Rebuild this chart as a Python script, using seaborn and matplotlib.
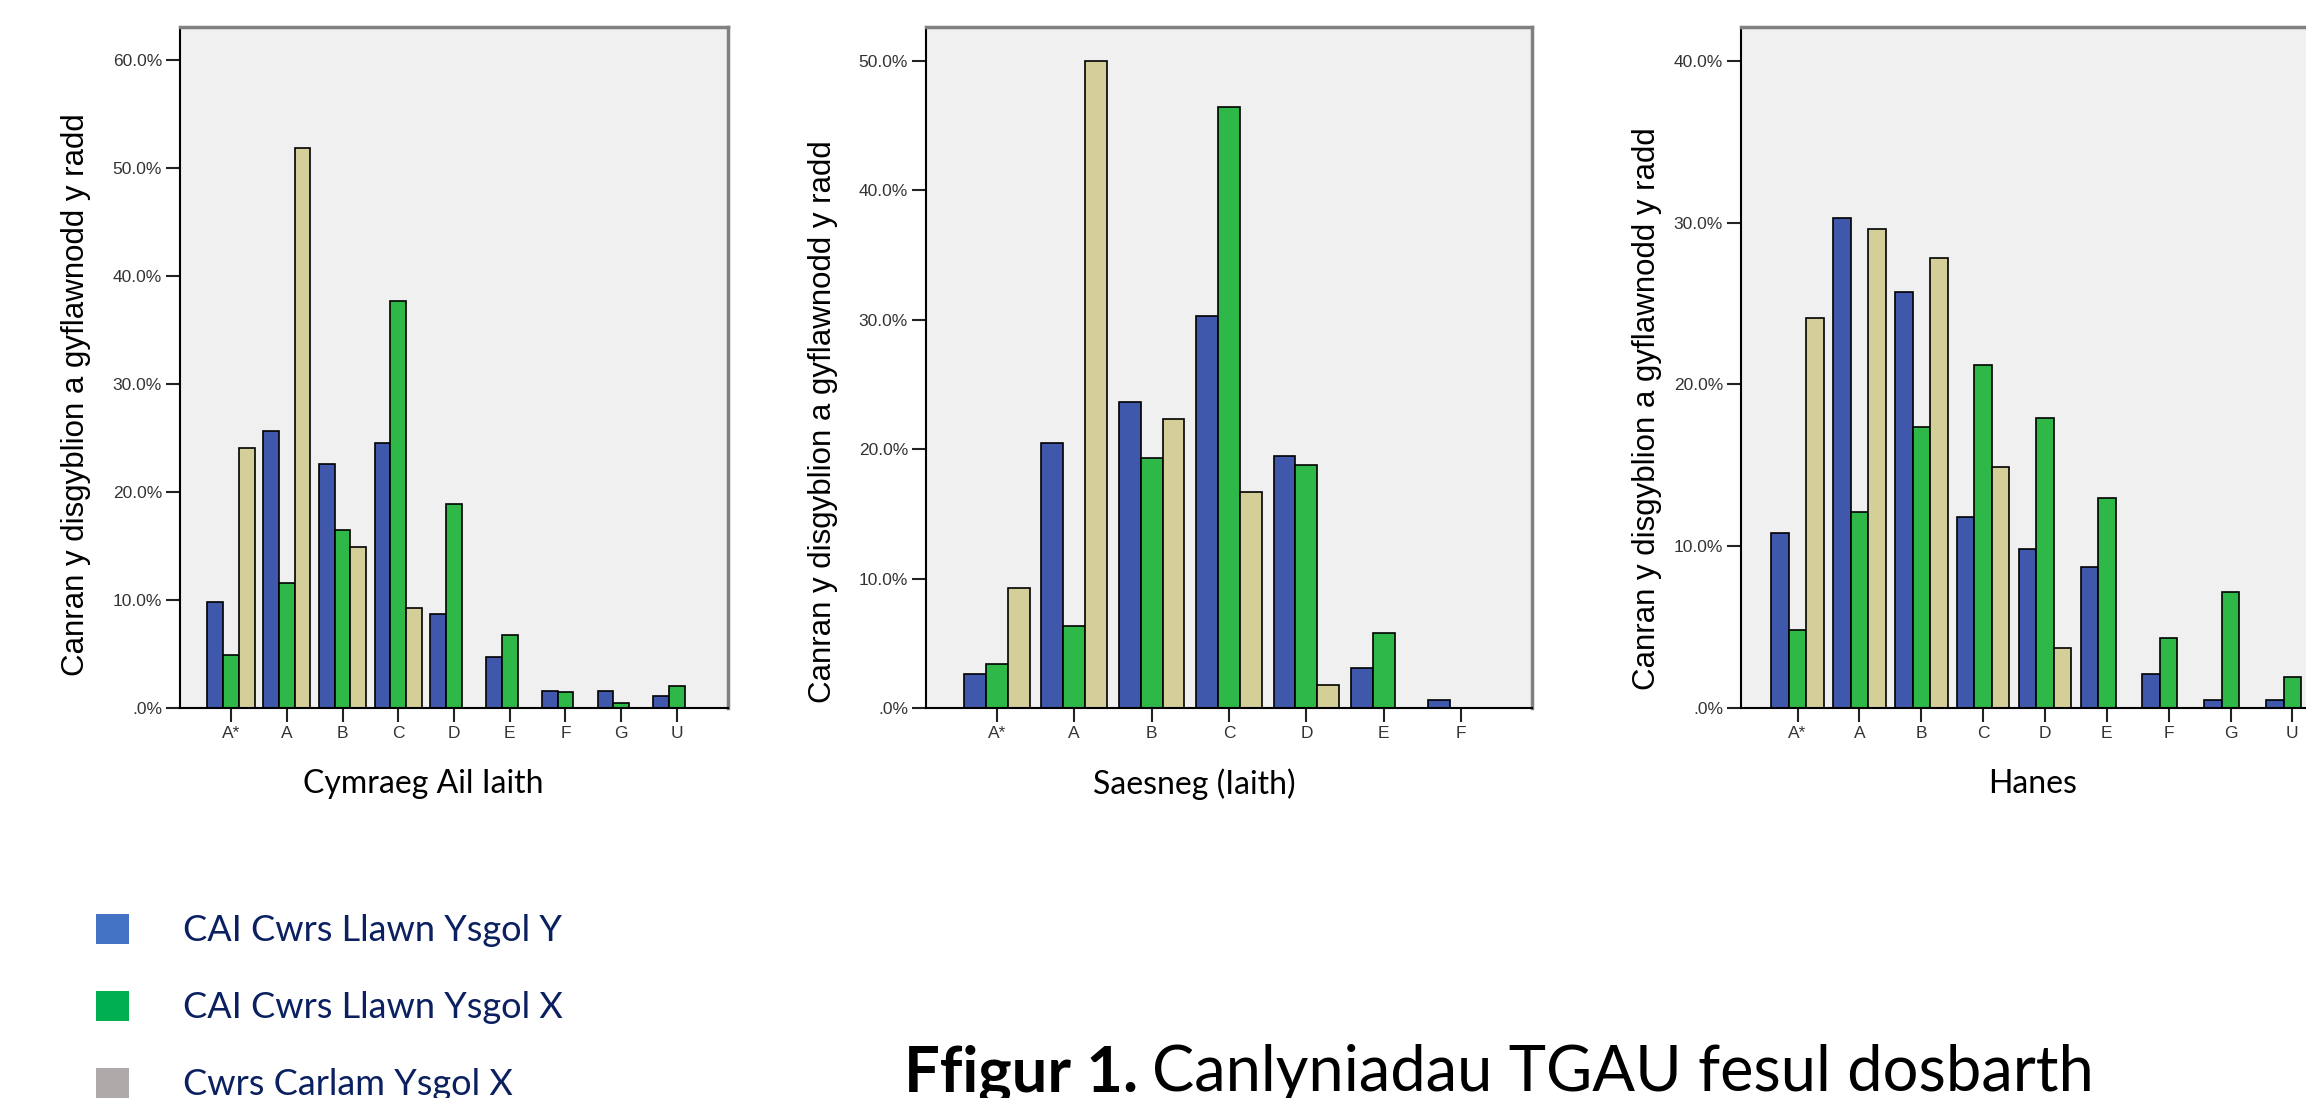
import numpy as np
import pandas as pd
import matplotlib
matplotlib.use("Agg")
import matplotlib.pyplot as plt
from matplotlib.patches import Patch
from matplotlib.ticker import FuncFormatter
import seaborn as sns

# grwpiau a lliwiau
groups = ["CAI Cwrs Llawn Ysgol Y", "CAI Cwrs Llawn Ysgol X", "Cwrs Carlam Ysgol X"]
bar_colours = ["#3f58ab", "#2eb848", "#d4cf98"]
legend_colours = ["#4472c4", "#00b050", "#aeaaaa"]

# Cymraeg Ail Iaith
grades_cym = ["A*", "A", "B", "C", "D", "E", "F", "G", "U"]
cym_y = [9.8, 25.7, 22.6, 24.6, 8.7, 4.7, 1.6, 1.6, 1.1]
cym_x = [4.9, 11.6, 16.5, 37.7, 18.9, 6.8, 1.5, 0.5, 2.0]
cym_carlam = [24.1, 51.9, 14.9, 9.3, None, None, None, None, None]

# Saesneg (Iaith)
grades_sae = ["A*", "A", "B", "C", "D", "E", "F"]
sae_y = [2.6, 20.5, 23.6, 30.3, 19.5, 3.1, 0.6]
sae_x = [3.4, 6.3, 19.3, 46.4, 18.8, 5.8, None]
sae_carlam = [9.3, 50.0, 22.3, 16.7, 1.8, None, None]

# Hanes
grades_han = ["A*", "A", "B", "C", "D", "E", "F", "G", "U"]
han_y = [10.8, 30.3, 25.7, 11.8, 9.8, 8.7, 2.1, 0.5, 0.5]
han_x = [4.8, 12.1, 17.4, 21.2, 17.9, 13.0, 4.3, 7.2, 1.9]
han_carlam = [24.1, 29.6, 27.8, 14.9, 3.7, None, None, None, None]

subjects = ["Cymraeg Ail Iaith", "Saesneg (Iaith)", "Hanes"]
ylabel = "Canran y disgyblion a gyflawnodd y radd"


def long_table(grades, series):
    rows = []
    for g, vals in zip(groups, series):
        for gr, v in zip(grades, vals):
            if v is not None:
                rows.append({"grade": gr, "group": g, "value": v})
    return pd.DataFrame(rows)


panels = [
    (grades_cym, [cym_y, cym_x, cym_carlam], 63.1, 60),
    (grades_sae, [sae_y, sae_x, sae_carlam], 52.6, 50),
    (grades_han, [han_y, han_x, han_carlam], 42.1, 40),
]

W, H = 2306, 1098
fig = plt.figure(figsize=(W / 100, H / 100), dpi=100)

# safle'r echelinau mewn picseli: chwith, de
boxes = [(180, 728), (926, 1532), (1741, 2349)]
top_px, bottom_px = 27, 708
ylab_pos = [(-0.19, 0.46), (-0.17, 0.42), (-0.155, 0.44)]
xlab_x = [423, 1194, 2033]

fmt = FuncFormatter(lambda v, p: ".0%" if v == 0 else f"{v:.1f}%")

for i, (grades, series, ytop, ymax_tick) in enumerate(panels):
    l, r = boxes[i]
    ax = fig.add_axes([l / W, 1 - bottom_px / H, (r - l) / W, (bottom_px - top_px) / H])
    df = long_table(grades, series)
    sns.barplot(data=df, x="grade", y="value", hue="group", order=grades,
                hue_order=groups, palette=bar_colours, width=0.85,
                edgecolor="black", linewidth=1.2, errorbar=None,
                saturation=1, legend=False, ax=ax)
    ax.set_facecolor("#f0f0f0")
    ax.set_xlim(-0.5 - 0.415, len(grades) - 0.5 + 0.415)
    ax.set_ylim(0, ytop)
    ax.set_yticks(np.arange(0, ymax_tick + 1, 10))
    ax.yaxis.set_major_formatter(fmt)
    ax.set_xlabel("")
    ax.set_ylabel(ylabel, fontsize=22.5, family="Liberation Sans", color="black")
    ax.yaxis.set_label_coords(*ylab_pos[i])
    ax.yaxis.label.set_verticalalignment("center")
    for s in ["top", "right"]:
        ax.spines[s].set_color("#808080")
        ax.spines[s].set_linewidth(2.5)
    for s in ["left", "bottom"]:
        ax.spines[s].set_color("black")
        ax.spines[s].set_linewidth(1.5)
    ax.tick_params(axis="both", direction="out", length=10, width=1.5,
                   color="#222222", labelcolor="#333333", labelsize=12.5, pad=3)
    for t in ax.get_xticklabels() + ax.get_yticklabels():
        t.set_family(["Liberation Sans Narrow", "Liberation Sans"])
    fig.text(xlab_x[i] / W, 1 - 784 / H, subjects[i], ha="center", va="center",
             fontsize=23, family="Lato", color="black")

# allwedd
handles = [Patch(facecolor=c, edgecolor="none") for c in legend_colours]
leg = fig.legend(handles, groups, loc="upper left", bbox_to_anchor=(96 / W, 1 - 914 / H),
                 frameon=False, fontsize=26, handlelength=0.9, handleheight=0.9,
                 handletextpad=1.5, labelspacing=1.2, borderaxespad=0, borderpad=0)
for t in leg.get_texts():
    t.set_color("#0b2060")
    t.set_family("Lato")

# teitl
renderer = fig.canvas.get_renderer()
t1 = fig.text(904 / W, 1 - 1091 / H, "Ffigur 1.", ha="left", va="baseline",
              fontsize=45.5, family="Lato", weight="bold", color="black")
bb = t1.get_window_extent(renderer)
fig.text((bb.x1 + 14) / W, 1 - 1091 / H, "Canlyniadau TGAU fesul dosbarth",
         ha="left", va="baseline", fontsize=45.5, family="Lato", color="black")

fig.savefig("out.png", dpi=100)
